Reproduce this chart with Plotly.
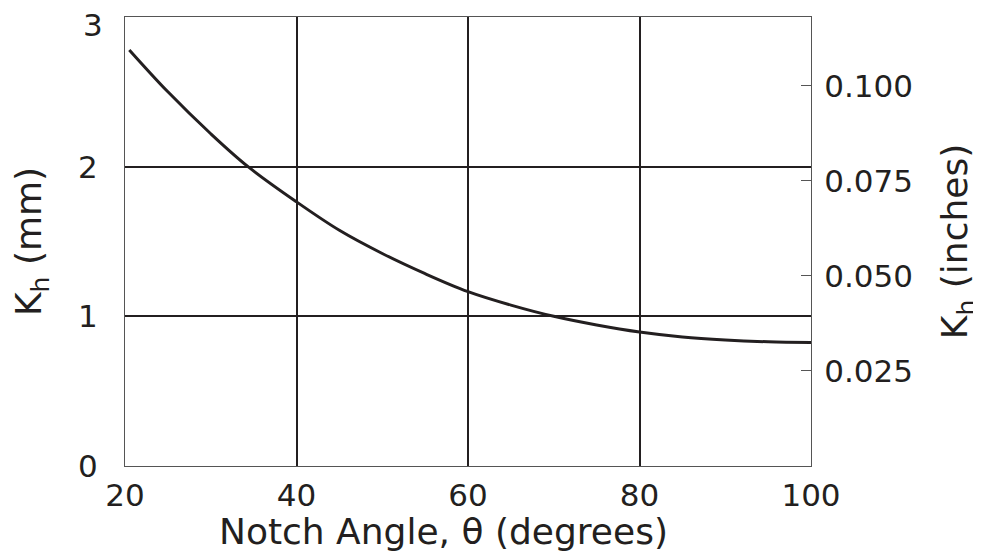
import plotly.graph_objects as go

notch_angle_deg = [20.5, 25, 30, 34.35, 40, 45, 50, 55, 60, 65, 70, 75, 80, 85, 90, 95, 100]
kh_mm = [2.78, 2.50, 2.22, 2.0, 1.765, 1.575, 1.42, 1.285, 1.165, 1.075, 1.0, 0.942, 0.895, 0.862, 0.842, 0.830, 0.825]
x_ticks = [20, 40, 60, 80, 100]
left_ticks = [0, 1, 2, 3]
right_ticks = [0.025, 0.050, 0.075, 0.100]
MM_PER_INCH = 25.4
x_title = "Notch Angle, θ (degrees)"

FONT = "DejaVu Sans"
INK = "#231f20"
TICK_SIZE = 31

fig = go.Figure()
fig.add_trace(go.Scatter(x=notch_angle_deg, y=kh_mm, mode="lines",
                         line=dict(color=INK, width=3, shape="spline", smoothing=1.0),
                         showlegend=False, hoverinfo="skip"))
fig.add_trace(go.Scatter(x=notch_angle_deg, y=[v / MM_PER_INCH for v in kh_mm], mode="lines",
                         line=dict(color="rgba(0,0,0,0)", width=0), yaxis="y2",
                         showlegend=False, hoverinfo="skip"))

# top label of the left axis sits just below the frame, as in the reference
fig.add_annotation(text=str(left_ticks[-1]), x=0, xref="paper", y=left_ticks[-1], yref="y",
                   xanchor="right", yanchor="middle", xshift=-20, yshift=-8, showarrow=False,
                   font=dict(size=TICK_SIZE, family=FONT, color=INK))
# x-axis title, slightly left of centre as in the reference
fig.add_annotation(text=x_title, x=0.5, xref="paper", y=0, yref="paper",
                   xanchor="center", yanchor="top", xshift=-25, yshift=-44, showarrow=False,
                   borderpad=0,
                   font=dict(size=36, family=FONT, color=INK))

fig.update_layout(
    width=973, height=548,
    margin=dict(l=117, r=170, t=9, b=90, autoexpand=False),
    paper_bgcolor="white", plot_bgcolor="white",
    font=dict(family=FONT, color=INK),
    xaxis=dict(range=[20, 100], tickvals=x_ticks, ticks="", showgrid=True, automargin=False,
               gridcolor=INK, gridwidth=1.5, zeroline=False,
               showline=True, linecolor="#555555", linewidth=1, mirror=True,
               tickfont=dict(size=TICK_SIZE, family=FONT, color=INK),
               ticklabelstandoff=2, ticklabeloverflow="allow"),
    yaxis=dict(range=[0, 3], tickvals=left_ticks[:-1], ticks="", showgrid=True, automargin=False,
               gridcolor=INK, gridwidth=1.5, zeroline=False,
               showline=True, linecolor="#555555", linewidth=1, mirror=True,
               tickfont=dict(size=TICK_SIZE, family=FONT, color=INK),
               ticklabelstandoff=20, ticklabeloverflow="allow",
               title=dict(text="K<sub>h</sub> (mm)", font=dict(size=36, family=FONT, color=INK),
                          standoff=26)),
    yaxis2=dict(range=[0, 3 / MM_PER_INCH], overlaying="y", side="right", automargin=False,
                tickvals=right_ticks, tickformat=".3f", ticks="inside", ticklen=10,
                tickcolor="#555555", tickwidth=1, showgrid=False, zeroline=False,
                showline=True, linecolor="#555555", linewidth=1,
                tickfont=dict(size=TICK_SIZE, family=FONT, color=INK),
                ticklabelstandoff=6, ticklabeloverflow="allow",
                title=dict(text="K<sub>h</sub> (inches)", font=dict(size=36, family=FONT, color=INK),
                           standoff=34)),
)

fig.write_html("out.html")
